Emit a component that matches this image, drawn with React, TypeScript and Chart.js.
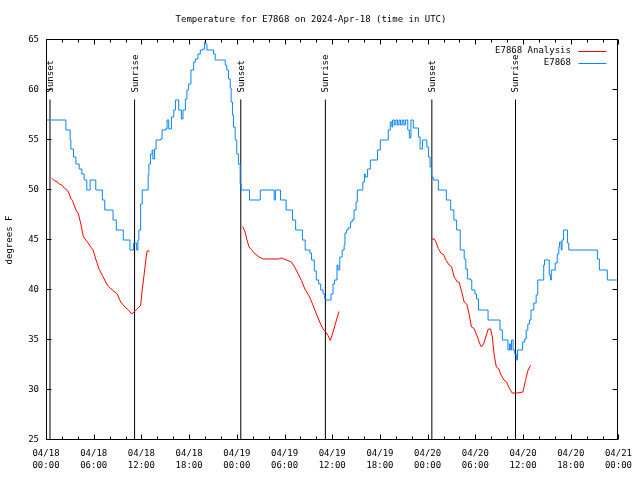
import React, { useEffect, useRef } from 'react';
import { Chart, registerables } from 'chart.js';

Chart.register(...registerables);

const TITLE = 'Temperature for E7868 on 2024-Apr-18 (time in UTC)';
const Y_TITLE = 'degrees F';
const STATION_LABEL = 'E7868';
const ANALYSIS_LABEL = 'E7868 Analysis';

// x axis: hours since 04/18 00:00 UTC
const xTickLabels: string[][] = [
  ['04/18', '00:00'], ['04/18', '06:00'], ['04/18', '12:00'], ['04/18', '18:00'],
  ['04/19', '00:00'], ['04/19', '06:00'], ['04/19', '12:00'], ['04/19', '18:00'],
  ['04/20', '00:00'], ['04/20', '06:00'], ['04/20', '12:00'], ['04/20', '18:00'],
  ['04/21', '00:00'],
];
const yTickValues = [25, 30, 35, 40, 45, 50, 55, 60, 65];

const sunEventNames = ['Sunset', 'Sunrise', 'Sunset', 'Sunrise', 'Sunset', 'Sunrise'];
const sunEventHours = [0.5, 11.14, 24.5, 35.14, 48.53, 59.05];
const sunLineTop = 59.05;

// station observations (value holds from its hour until the next one)
const stationHours = [
  0.08, 2.5, 3.04, 3.13, 3.46, 3.76, 4.17, 4.51, 4.8, 5.13, 5.55, 6.26, 7.09, 7.39, 8.43, 8.84, 9.72, 10.56,
  11.02, 11.4, 11.56, 11.68, 11.9, 12.1, 12.85, 12.94, 13.15, 13.35, 13.44, 13.65, 13.85, 14.4, 14.6, 15.03,
  15.23, 15.44, 15.78, 16.07, 16.28, 16.69, 17.03, 17.23, 17.53, 17.73, 17.94, 18.23, 18.57, 18.78, 19.11,
  19.41, 19.7, 19.95, 20.04, 20.24, 21.07, 21.28, 22.54, 22.74, 22.95, 23.17, 23.29, 23.45, 23.58,
  23.79, 23.99, 24.2, 24.42, 24.54,
  25.6, 26.95, 28.7, 28.85, 29.5, 30.2, 31.0, 31.4, 32.25, 32.6, 33.2, 33.4, 33.75, 34.0, 34.3, 34.55, 34.85,
  35.05, 35.2, 35.85, 36.1, 36.3, 36.6, 36.73, 36.95, 37.25, 37.5, 37.6, 37.8, 38.0, 38.3, 38.5, 38.75, 39.0,
  39.15, 39.85, 40.05, 40.15, 40.45, 40.8, 41.7, 42.05, 43.05, 43.3, 43.5, 43.6, 43.8, 44.0, 44.2, 44.4, 44.6,
  44.8, 45.0, 45.2, 45.5, 45.7, 45.9, 46.2, 46.85, 47.05, 47.35, 47.9, 48.1, 48.3, 48.5, 48.7,
  49.35, 50.35, 50.9, 51.3, 51.65, 52.1, 52.6, 52.8, 53.0, 53.4, 53.55, 53.95, 54.15, 54.4, 55.6, 57.1, 57.4,
  58.1, 58.3, 58.45, 58.55, 58.75, 58.95, 59.15, 59.3, 59.95, 60.2, 60.4, 60.6, 60.8, 61.0, 61.35, 61.65,
  61.85, 62.6, 62.7, 63.3, 63.45, 63.55, 64.05, 64.3, 64.5, 64.6, 64.8, 64.9, 65.1, 65.6, 65.75, 69.35,
  69.6, 70.6, 71.8,
];
const stationTemps = [
  57, 56, 55, 54.1, 53.3, 52.6, 52.1, 51.6, 51, 50, 51, 50, 49, 48, 47, 46, 45, 44,
  44.7, 44, 45, 46, 48.6, 50, 51.5, 52.6, 53.6, 54, 53.1, 54.1, 55, 55.1, 56, 56.1,
  57, 56.1, 57.3, 58, 59, 58, 57.1, 58, 59.1, 60, 60.6, 62, 62.8, 63.1, 63.6,
  64, 64.1, 64.8, 64.6, 64, 63.6, 63, 62.5, 62, 61.1, 60.2, 58.8, 57.5, 56.3,
  55, 53.6, 52.6, 50.6, 50,
  49, 50, 49, 50, 49, 48, 47, 46, 45, 44, 43.7, 43, 41.9, 41, 40.6, 40, 39.6,
  39.1, 39, 39.6, 40.6, 41, 42.5, 42, 43.3, 44, 44.5, 45.7, 46, 46.2, 46.8, 47, 48, 48.8,
  50, 50.8, 51.6, 51.3, 52.1, 53, 54, 55, 56, 56.8, 56.3, 57, 56.5, 57, 56.5, 57, 56.5,
  57, 56.5, 57, 56, 55.2, 57, 56.2, 55.3, 54.1, 55, 54.3, 53.3, 52.3, 51.3, 51,
  50, 49, 48, 47, 46, 44, 43.1, 42.1, 41.1, 41, 40, 39.6, 39.1, 38, 37, 36, 35,
  34, 34.6, 34, 35, 34, 33.6, 33, 34, 34.8, 35.1, 36, 36.6, 37, 38, 38.7, 39.5,
  41, 42.5, 43, 41.5, 41, 42, 42.7, 43.6, 44.3, 44.8, 44, 45, 46, 44.7, 44, 43.1,
  42, 41, 41,
];

// analysis, one run per night
const analysisHours1 = [
  0.7, 1.04, 1.45, 1.67, 2.08, 2.29, 2.7, 2.92, 3.13, 3.33, 3.76, 4.08, 4.38, 4.71, 5.21, 5.63, 5.92,
  6.26, 6.67, 7.09, 7.51, 7.84, 8.34, 8.97, 9.39, 9.93, 10.43, 10.77, 11.27, 11.9, 12.1, 12.35, 12.6, 12.72, 13.02,
];
const analysisTemps1 = [
  51.2, 50.95, 50.8, 50.6, 50.45, 50.2, 49.95, 49.6, 49.1, 48.95, 48, 47.6, 46.6, 45.3, 44.8, 44.3, 44,
  43.1, 42.1, 41.45, 40.8, 40.35, 40, 39.6, 38.8, 38.3, 37.95, 37.6, 37.95, 38.45, 40, 41.6, 43.3, 43.9, 43.9,
];
const analysisHours2 = [
  24.74, 25.04, 25.24, 25.54, 25.87, 26.3, 26.8, 27.34, 29.21, 29.63, 30.25, 30.88, 31.3, 31.72, 32.13,
  32.56, 33.06, 33.6, 34.01, 34.43, 34.85, 35.19, 35.47, 35.76, 36.1, 36.39, 36.85,
];
const analysisTemps2 = [
  46.35, 45.8, 45.1, 44.3, 44, 43.6, 43.3, 43.1, 43.1, 43.2, 43, 42.8, 42.25, 41.6, 40.95,
  40.1, 39.45, 38.45, 37.6, 36.8, 36.1, 35.8, 35.45, 34.95, 35.8, 36.6, 37.85,
];
const analysisHours3 = [
  48.53, 48.84, 49.04, 49.34, 49.66, 50.0, 50.29, 50.71, 51.0, 51.34, 51.75, 51.97, 52.29, 52.59, 52.92,
  53.22, 53.51, 53.84, 54.26, 54.6, 54.76, 55.09, 55.3, 55.63, 55.92, 56.14, 56.35, 56.64, 56.97, 57.17,
  57.6, 57.93, 58.23, 58.64, 59.27, 59.98, 60.31, 60.61, 60.94,
];
const analysisTemps3 = [
  45.1, 45.1, 44.8, 44.15, 43.7, 43.55, 43, 42.5, 42.35, 41.3, 40.8, 40.75, 39.8, 38.8, 38.6,
  37.6, 36.3, 36.15, 35.3, 34.55, 34.3, 34.7, 35.3, 36.1, 36.1, 35.3, 33.6, 32.3, 32.1, 31.6,
  31, 30.8, 30.25, 29.7, 29.7, 29.8, 30.95, 31.95, 32.45,
];

const RED = '#ff0000';
const BLUE = '#0a84ff';
const FONT = "'DejaVu Sans Mono', 'Liberation Mono', monospace";

const zip = (xs: number[], ys: number[]) => xs.map((x, i) => ({ x, y: ys[i] }));

const gnuplotPlugin = {
  id: 'gnuplotDecor',
  afterDatasetsDraw(chart: any) {
    const { ctx, chartArea: a, scales } = chart;
    const xs = scales.x;
    const ys = scales.y;
    ctx.save();
    ctx.strokeStyle = '#000';
    ctx.lineWidth = 1;
    const L = Math.round(a.left) + 0.5;
    const R = Math.round(a.right) - 0.5;
    const T = Math.round(a.top) - 0.5;
    const B = Math.round(a.bottom) - 0.5;
    ctx.strokeRect(L, T, R - L, B - T);
    ctx.beginPath();
    for (const v of yTickValues) {
      const py = Math.round(ys.getPixelForValue(v)) - 0.5;
      ctx.moveTo(L, py); ctx.lineTo(L + 5, py);
      ctx.moveTo(R, py); ctx.lineTo(R - 5, py);
    }
    for (let h = 0; h <= 72; h += 2) {
      const px = Math.round(xs.getPixelForValue(h)) + 0.5;
      const len = h % 6 === 0 ? 5 : 3;
      ctx.moveTo(px, B); ctx.lineTo(px, B - len);
      ctx.moveTo(px, T); ctx.lineTo(px, T + len);
    }
    ctx.stroke();

    ctx.fillStyle = '#000';
    ctx.font = `9px ${FONT}`;
    // sunrise / sunset labels
    const topPx = ys.getPixelForValue(sunLineTop);
    sunEventHours.forEach((h, i) => {
      const px = Math.round(xs.getPixelForValue(h)) + 1;
      ctx.save();
      ctx.translate(px, topPx - 7);
      ctx.rotate(-Math.PI / 2);
      ctx.textAlign = 'left';
      ctx.textBaseline = 'middle';
      ctx.fillText(sunEventNames[i], 0, 0);
      ctx.restore();
    });

    // legend (text right aligned, sample line on the right)
    const items = chart.data.datasets.filter((d: any) => d.inLegend);
    items.forEach((d: any, i: number) => {
      const y = a.top + 10.5 + i * 12.5;
      ctx.textAlign = 'right';
      ctx.textBaseline = 'middle';
      ctx.fillStyle = '#000';
      ctx.fillText(d.label, a.right - 47.5, y);
      ctx.strokeStyle = d.borderColor;
      ctx.beginPath();
      ctx.moveTo(a.right - 40, Math.round(y) + 0.5);
      ctx.lineTo(a.right - 12, Math.round(y) + 0.5);
      ctx.stroke();
    });
    ctx.restore();
  },
};

export default function App() {
  const canvasRef = useRef<HTMLCanvasElement | null>(null);

  useEffect(() => {
    const canvas = canvasRef.current;
    if (!canvas) return;

    const analysisData = [
      ...zip(analysisHours1, analysisTemps1),
      { x: 13.5, y: null },
      ...zip(analysisHours2, analysisTemps2),
      { x: 37.5, y: null },
      ...zip(analysisHours3, analysisTemps3),
    ];

    const sunDatasets = sunEventHours.map((h, i) => ({
      label: sunEventNames[i],
      data: [{ x: h, y: 25 }, { x: h, y: sunLineTop }],
      borderColor: '#000',
      borderWidth: 1,
      pointRadius: 0,
      fill: false,
    }));

    const chart = new Chart(canvas, {
      type: 'line',
      data: {
        datasets: [
          {
            label: ANALYSIS_LABEL,
            inLegend: true,
            data: analysisData,
            borderColor: RED,
            borderWidth: 1,
            pointRadius: 0,
            spanGaps: false,
            fill: false,
          } as any,
          {
            label: STATION_LABEL,
            inLegend: true,
            data: zip(stationHours, stationTemps),
            borderColor: BLUE,
            borderWidth: 1,
            pointRadius: 0,
            stepped: true,
            fill: false,
          } as any,
          ...sunDatasets,
        ],
      },
      options: {
        animation: false,
        responsive: false,
        maintainAspectRatio: false,
        devicePixelRatio: 1,
        layout: { padding: { left: 0, right: 18, top: 0, bottom: 0 } },
        plugins: {
          legend: { display: false },
          tooltip: { enabled: false },
          title: {
            display: true,
            text: TITLE,
            color: '#000',
            font: { family: FONT, size: 9, weight: 'normal', lineHeight: 1.2 },
            padding: { top: 14, bottom: 15.2 },
          },
        },
        scales: {
          x: {
            type: 'linear',
            min: 0,
            max: 72,
            grid: { display: false, drawTicks: false },
            border: { display: false },
            afterFit: (s: any) => { s.height = 40; },
            ticks: {
              stepSize: 6,
              autoSkip: false,
              maxRotation: 0,
              padding: 8,
              color: '#000',
              font: { family: FONT, size: 9, lineHeight: 1.33 },
              callback: (v: any) => xTickLabels[Math.round(Number(v) / 6)] ?? '',
            },
          },
          y: {
            type: 'linear',
            min: 25,
            max: 65,
            grid: { display: false, drawTicks: false },
            border: { display: false },
            afterFit: (s: any) => { s.width = 46; },
            ticks: {
              stepSize: 5,
              padding: 7,
              color: '#000',
              font: { family: FONT, size: 9 },
            },
            title: {
              display: true,
              text: Y_TITLE,
              color: '#000',
              font: { family: FONT, size: 9, lineHeight: 1.2 },
              padding: { top: 4, bottom: 0 },
            },
          },
        },
      },
      plugins: [gnuplotPlugin],
    } as any);

    return () => chart.destroy();
  }, []);

  return (
    <div style={{ position: 'absolute', left: 0, top: 0, width: 640, height: 480, background: '#fff' }}>
      <canvas ref={canvasRef} width={640} height={480} style={{ width: 640, height: 480 }} />
    </div>
  );
}
